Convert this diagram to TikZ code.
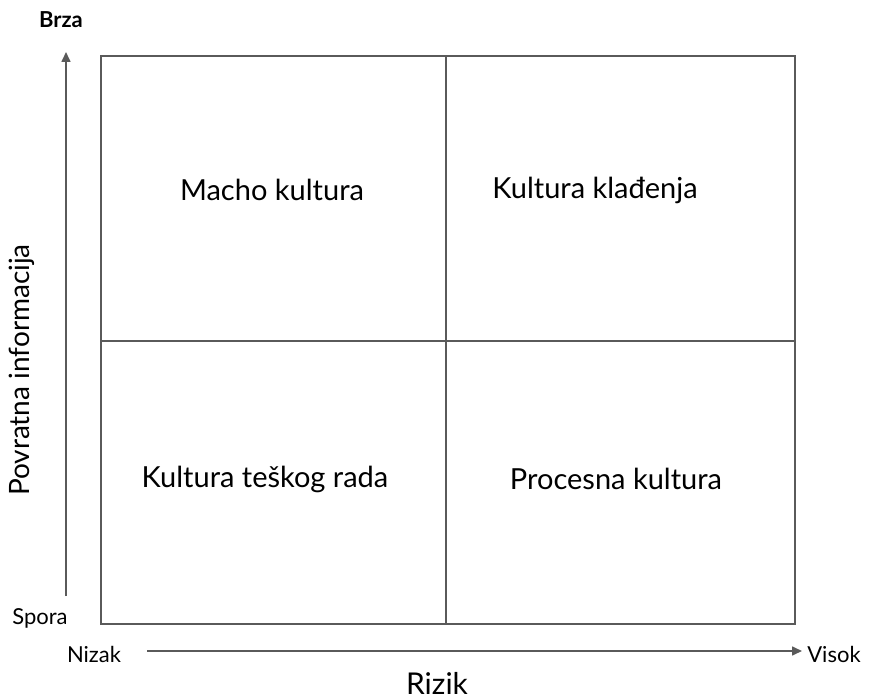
\documentclass[tikz,border=0pt]{standalone}
\usepackage{fontspec}
\setmainfont{Lato}
\usetikzlibrary{positioning,arrows.meta}
\definecolor{framegray}{RGB}{90,90,90}
\tikzset{
		gridStyle/.style = {line width = 1.8pt, color=framegray},
		axisStyle/.style = {line width = 1.6pt, color=framegray, -{Triangle[length=10pt,width=9pt]}},
		quad/.style = {font=\fontsize{29}{34}\selectfont, inner sep=0pt},
		tick/.style = {font=\fontsize{22}{26}\selectfont, inner sep=0pt},
		axisname/.style = {font=\fontsize{28}{33}\selectfont, inner sep=0pt}
}

\begin{document}
\begin{tikzpicture}[x=1pt,y=-1pt]
  \useasboundingbox (0,0) rectangle (873,700);

  % the four fields
  \draw [gridStyle] (101,56) rectangle (795,624);
  \draw [gridStyle] (446,56) -- (446,624);
  \draw [gridStyle] (101,341) -- (795,341);

  \node [quad] (macho)   at (272,190) {Macho kultura};
  \node [quad] (kladj)   at (595,190) {Kultura klađenja};
  \node [quad] (teski)   at (265,479) {Kultura teškog rada};
  \node [quad] (proces)  at (616,479) {Procesna kultura};

  % axes
  \coordinate (ylow)  at (66,596);
  \coordinate (yhigh) at (66,52);
  \coordinate (xlow)  at (147,651);
  \coordinate (xhigh) at (802,651);
  \draw [axisStyle] (ylow) -- (yhigh);
  \draw [axisStyle] (xlow) -- (xhigh);

  \node [tick] (brza)  at (61,20)  {\bfseries Brza};
  \node [tick] (spora) at (40,618) {Spora};
  \node [tick] (nizak) at (94,654) {Nizak};
  \node [tick] (visok) at (834,654) {Visok};

  \node [axisname, font=\fontsize{30}{35}\selectfont] (rizik) at (437,683) {Rizik};
  \node [axisname, rotate=90] (povrat) at (22,370) {Povratna informacija};

\end{tikzpicture}
\end{document}
